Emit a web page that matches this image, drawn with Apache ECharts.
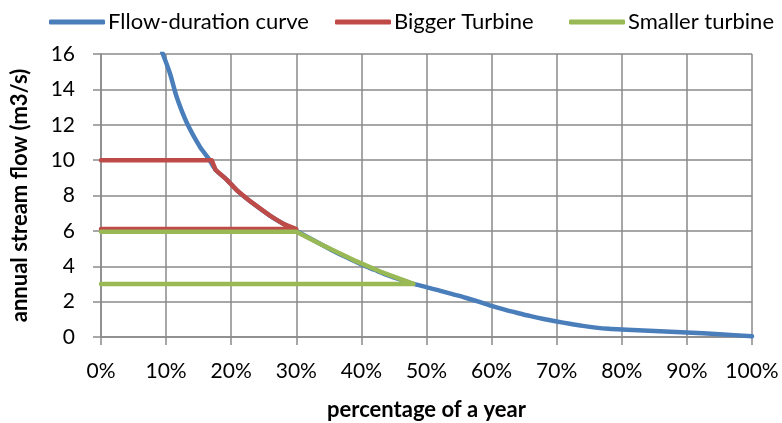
<!DOCTYPE html>
<html>
<head>
<meta charset="utf-8">
<script src="https://cdn.jsdelivr.net/npm/echarts@6/dist/echarts.min.js"></script>
<style>html,body{margin:0;padding:0;background:#fff}#c{width:782px;height:423px}</style>
</head>
<body>
<div id="c"></div>
<script>
// Series names
const seriesNames = ['Fllow-duration curve', 'Bigger Turbine', 'Smaller turbine'];
// Flow-duration curve: [percentage of year, flow m3/s]
const flowPct  = [9.4, 10.6, 11.6, 13.2, 15.2, 16.5, 17.6, 19.3, 21, 23, 26, 28, 30, 32, 34, 36, 38, 40, 42, 44, 46, 48, 50, 52, 54, 56, 58, 60, 62, 64, 66, 68, 70, 72, 74, 76, 78, 80, 85, 90, 95, 100];
const flowVal  = [16.1, 14.9, 13.6, 12.1, 10.75, 10.1, 9.45, 8.9, 8.25, 7.65, 6.85, 6.4, 6.0, 5.6, 5.2, 4.8, 4.45, 4.1, 3.8, 3.5, 3.25, 3.0, 2.82, 2.62, 2.42, 2.22, 2.0, 1.76, 1.55, 1.36, 1.18, 1.02, 0.88, 0.75, 0.63, 0.53, 0.46, 0.42, 0.34, 0.26, 0.16, 0.04];
// Bigger turbine outline
const bigPct   = [0, 17, 17.6, 19.3, 21, 23, 26, 28, 30, 0];
const bigVal   = [10, 10, 9.45, 8.9, 8.25, 7.65, 6.85, 6.4, 6.1, 6.1];
// Smaller turbine outline
const smallPct = [0, 30, 34, 38.8, 42.9, 48, 0];
const smallVal = [5.95, 5.95, 5.2, 4.35, 3.7, 3.0, 3.0];
// Axes
const xMin = 0, xMax = 100, xStep = 10;
const yMin = 0, yMax = 16, yStep = 2;

const zip = (a, b) => a.map((v, i) => [v, b[i]]);
const FONT = 'Lato';
const grid = '#8a8a8a';
const legendLefts = [44, 330, 564];

const chart = echarts.init(document.getElementById('c'));
chart.setOption({
  animation: false,
  textStyle: { fontFamily: FONT },
  legend: seriesNames.map((n, i) => ({
    top: 6, left: legendLefts[i],
    itemWidth: 56, itemHeight: 5,
    icon: 'roundRect',
    textStyle: { fontFamily: FONT, fontSize: 22, color: '#000', padding: [0, 0, 0, -2] },
    data: [n]
  })),
  grid: { left: 101, top: 54, width: 651, height: 283, containLabel: false, outerBoundsMode: 'none' },
  xAxis: {
    type: 'value', min: xMin, max: xMax, interval: xStep,
    name: 'percentage of a year', nameLocation: 'middle', nameGap: 62,
    nameTextStyle: { fontFamily: FONT, fontSize: 22, fontWeight: 'bold', color: '#000' },
    axisLine: { show: true, lineStyle: { color: grid, width: 1.5 } },
    axisTick: { show: true, length: 8, lineStyle: { color: grid, width: 1.5 } },
    axisLabel: { margin: 24, fontSize: 21, color: '#000', formatter: '{value}%' },
    splitLine: { show: true, lineStyle: { color: grid, width: 1.5 } }
  },
  yAxis: {
    type: 'value', min: yMin, max: yMax, interval: yStep,
    name: 'annual stream flow (m3/s)', nameLocation: 'middle', nameGap: 70,
    nameTextStyle: { fontFamily: FONT, fontSize: 22, fontWeight: 'bold', color: '#000' },
    axisLine: { show: true, lineStyle: { color: grid, width: 1.5 } },
    axisTick: { show: true, length: 8, lineStyle: { color: grid, width: 1.5 } },
    axisLabel: { margin: 26, fontSize: 21, color: '#000' },
    splitLine: { show: true, lineStyle: { color: grid, width: 1.5 } }
  },
  series: [
    {
      name: seriesNames[0], type: 'line', data: zip(flowPct, flowVal),
      showSymbol: false, smooth: 0.25, clip: true,
      itemStyle: { color: '#4a7ebb' },
      lineStyle: { color: '#4a7ebb', width: 4.5, cap: 'round', join: 'round' }
    },
    {
      name: seriesNames[1], type: 'line', data: zip(bigPct, bigVal),
      showSymbol: false, smooth: false,
      itemStyle: { color: '#be4b48' },
      lineStyle: { color: '#be4b48', width: 4.5, cap: 'round', join: 'round' }
    },
    {
      name: seriesNames[2], type: 'line', data: zip(smallPct, smallVal),
      showSymbol: false, smooth: false,
      itemStyle: { color: '#98b954' },
      lineStyle: { color: '#98b954', width: 4.5, cap: 'round', join: 'round' }
    }
  ]
});
</script>
</body>
</html>
